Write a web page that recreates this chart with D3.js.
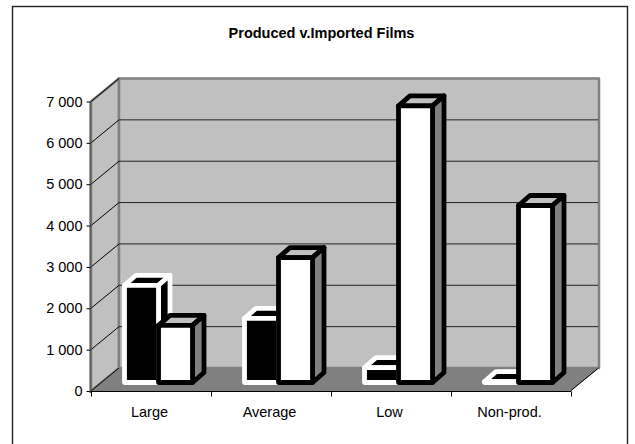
<!DOCTYPE html>
<html><head><meta charset="utf-8">
<script src="https://cdn.jsdelivr.net/npm/d3@7/dist/d3.min.js"></script>
<style>html,body{margin:0;padding:0;background:#fff;overflow:hidden}svg{display:block}text{font-family:"Liberation Sans",Arial,sans-serif;fill:#000}</style>
</head><body><script>
const categories = ["Large","Average","Low","Non-prod."];
const produced = [2350,1550,360,20];
const imported = [1380,3020,6690,4280];
const yTicks = [0,1000,2000,3000,4000,5000,6000,7000];
const title = "Produced v.Imported Films";

const svg = d3.select("body").append("svg").attr("width",635).attr("height",444);
svg.append("rect").attr("x",12.5).attr("y",6.5).attr("width",615).attr("height",460).attr("fill","#fff").attr("stroke","#222").attr("stroke-width",1.4);
svg.append("text").attr("x",321.5).attr("y",38).attr("text-anchor","middle").attr("font-size",14.5).attr("font-weight","bold").text(title);

const x = d3.scaleBand().domain(categories).range([91,571]);
const y = d3.scaleLinear().domain([0,7000]).range([391,101.5]);
const wallDx = 28, wallDy = -23;
const barDx = 11.5, barDy = -10, barBase = 8.5;
const x1 = d3.scaleBand().domain(["p","i"]).range([33.5,101.5]);
const poly = (g,pts,fill,stroke,sw) => g.append("polygon").attr("points",pts.map(p=>p.join(",")).join(" "))
  .attr("fill",fill).attr("stroke",stroke).attr("stroke-width",sw).attr("stroke-linejoin","round");

const walls = svg.append("g");
const X0=x.range()[0],X1=x.range()[1],Y0=y(0),YT=y(7000);
poly(walls,[[X0,YT],[X0+wallDx,YT+wallDy],[X0+wallDx,Y0+wallDy],[X0,Y0]],"#c0c0c0","#808080",2.5);
poly(walls,[[X0+wallDx,YT+wallDy],[X1+wallDx,YT+wallDy],[X1+wallDx,Y0+wallDy],[X0+wallDx,Y0+wallDy]],"#c0c0c0","#808080",2.5);
poly(walls,[[X0,Y0],[X0+wallDx,Y0+wallDy],[X1+wallDx,Y0+wallDy],[X1,Y0]],"#808080","#808080",1);

const grid = svg.append("g").attr("fill","none").attr("stroke","#000").attr("stroke-width",1);
yTicks.forEach(t=>{
  if(t>0 && t<7000) grid.append("path").attr("stroke","#222").attr("d",`M${X1+wallDx-1},${y(t)+wallDy}H${X0+wallDx}`);
  grid.append("path").attr("d",`M${X0+wallDx},${y(t)+wallDy}L${X0},${y(t)}`);
});
grid.append("path").attr("stroke","#fff").attr("stroke-width",1.2).attr("d",`M${X1+wallDx},${Y0+wallDy+1}L${X1+0.5},${Y0+0.5}`);
grid.append("path").attr("d",`M${X1+wallDx-0.5},${Y0+wallDy}L${X1},${Y0-0.5}`);

const bars = svg.append("g");
function bar(cx,w,v,front,top,side,stroke){
  const g = bars.append("g");
  const l=cx,r=cx+w,b=y(0)-barBase,t=y(v)-barBase;
  poly(g,[[l,t],[l+barDx,t+barDy],[r+barDx,t+barDy],[r,t]],top,stroke,4.8);
  poly(g,[[r,t],[r+barDx,t+barDy],[r+barDx,b+barDy],[r,b]],side,stroke,4.8);
  poly(g,[[l,t],[r,t],[r,b],[l,b]],front,stroke,4.8);
}
categories.forEach((c,i)=>{
  bar(x(c)+x1("p"),x1.bandwidth(),produced[i],"#000","#000","#000","#fff");
  bar(x(c)+x1("i"),x1.bandwidth(),imported[i],"#fff","#c0c0c0","#808080","#000");
});

const axY = svg.append("g").attr("transform",`translate(${X0-0.5},0)`)
  .call(d3.axisLeft(y).tickValues(yTicks).tickSize(4).tickFormat(v=>d3.format(",")(v).replace(","," ")));
axY.selectAll("text").attr("font-size",14.5).attr("x",-8).attr("font-family",'"Liberation Sans"');
axY.selectAll("line").attr("stroke","#000");
axY.select(".domain").attr("stroke","#606060").attr("stroke-width",2).attr("d",`M0,${YT}V${Y0+2}`);
const axX = svg.append("g").attr("transform",`translate(0,${Y0+0.5})`)
  .call(d3.axisBottom(x).tickSize(0).tickPadding(15));
axX.selectAll("text").attr("font-size",14.5).attr("font-family",'"Liberation Sans"').attr("dx",-1.5);
axX.select(".domain").attr("stroke","#000").attr("d",`M${X0},0H${X1}`);
const edges = x.domain().map(c=>x(c)).concat([X1]);
axX.selectAll("line.edge").data(edges).join("line").attr("class","edge")
  .attr("x1",d=>d+0.5).attr("x2",d=>d+0.5).attr("y1",0).attr("y2",5).attr("stroke","#000");
</script></body></html>
